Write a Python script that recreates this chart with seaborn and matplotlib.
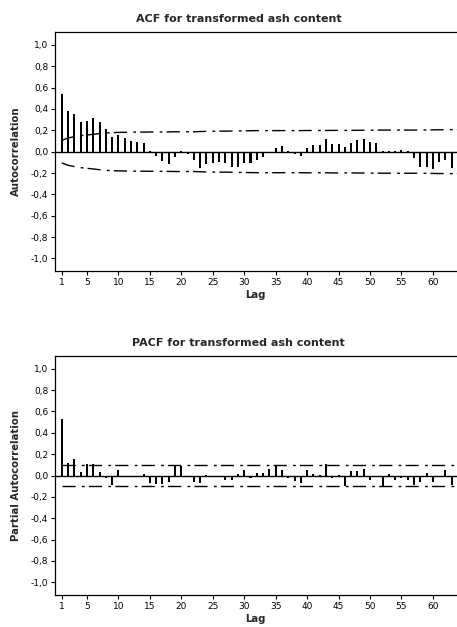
import numpy as np
import pandas as pd
import matplotlib
matplotlib.use("Agg")
import matplotlib.pyplot as plt
import seaborn as sns

# Lags shown on both correlograms
lags = list(range(1, 64))

# Sample autocorrelations, lags 1..63
acf_values = [
    0.54, 0.38, 0.35, 0.275, 0.29, 0.315, 0.275, 0.21, 0.135, 0.155,
    0.125, 0.10, 0.095, 0.085, 0.01, -0.04, -0.085, -0.115, -0.05, 0.01,
    -0.02, -0.08, -0.15, -0.12, -0.11, -0.10, -0.105, -0.14, -0.14, -0.105,
    -0.11, -0.075, -0.05, -0.01, 0.035, 0.055, 0.01, -0.02, -0.045, 0.035,
    0.065, 0.065, 0.115, 0.075, 0.07, 0.045, 0.085, 0.11, 0.115, 0.095,
    0.08, 0.005, 0.005, 0.005, 0.015, 0.01, -0.055, -0.14, -0.14, -0.16,
    -0.10, -0.08, -0.155,
]

# Upper confidence limit of the ACF (lower limit is its mirror)
acf_limit = [
    0.106, 0.128, 0.140, 0.150, 0.156, 0.162, 0.169, 0.175, 0.178, 0.180,
    0.181, 0.182, 0.183, 0.183, 0.184, 0.184, 0.184, 0.185, 0.186, 0.186,
    0.186, 0.186, 0.188, 0.190, 0.191, 0.192, 0.192, 0.193, 0.194, 0.195,
    0.196, 0.197, 0.197, 0.197, 0.197, 0.197, 0.197, 0.197, 0.197, 0.198,
    0.198, 0.198, 0.198, 0.199, 0.199, 0.199, 0.199, 0.200, 0.200, 0.201,
    0.201, 0.202, 0.202, 0.202, 0.202, 0.202, 0.202, 0.202, 0.203, 0.204,
    0.205, 0.205, 0.206,
]

# Sample partial autocorrelations, lags 1..63
pacf_values = [
    0.53, 0.115, 0.15, 0.035, 0.11, 0.11, 0.03, -0.02, -0.085, 0.05,
    -0.012, -0.005, -0.005, 0.015, -0.07, -0.08, -0.08, -0.06, 0.09, 0.09,
    -0.01, -0.06, -0.07, 0.005, 0.0, -0.005, -0.04, -0.04, 0.015, 0.055,
    -0.02, 0.02, 0.02, 0.06, 0.09, 0.055, -0.02, -0.05, -0.07, 0.055,
    0.01, 0.005, 0.11, -0.025, 0.005, -0.10, 0.045, 0.04, 0.065, -0.04,
    0.0, -0.11, 0.015, -0.04, -0.025, -0.04, -0.09, -0.065, 0.025, -0.065,
    0.0, 0.055, -0.09,
]

# Constant confidence limit of the PACF
pacf_limit = 0.102

x_ticks = [1, 5, 10, 15, 20, 25, 30, 35, 40, 45, 50, 55, 60]
y_ticks = [-1.0, -0.8, -0.6, -0.4, -0.2, 0.0, 0.2, 0.4, 0.6, 0.8, 1.0]
y_tick_labels = [f"{v:.1f}".replace(".", ",") for v in y_ticks]

sns.set_theme(style="white")
plt.rcParams["font.family"] = ["DejaVu Sans"]
plt.rcParams["lines.scale_dashes"] = False

XLIM = (-0.17, 63.84)
YLIM = (-1.12, 1.12)
DASHDOT = (0, (9.5, 4.5, 2.0, 3.0))

fig = plt.figure(figsize=(4.57, 6.27), dpi=100)
fig.patch.set_facecolor("white")
ax_acf = fig.add_axes([54.5 / 457, 1 - 271.3 / 627, 1 - 54.5 / 457, 239.3 / 627])
ax_pacf = fig.add_axes([54.5 / 457, 1 - 595.0 / 627, 1 - 54.5 / 457, 239.0 / 627])


def correlogram(ax, values, upper, lower, title, ylabel):
    df = pd.DataFrame({"lag": lags, "value": values})
    sns.barplot(data=df, x="lag", y="value", native_scale=True, width=0.32,
                color="black", linewidth=0, saturation=1, ax=ax)
    ax.set_xlim(*XLIM)
    ax.set_ylim(*YLIM)
    xs = lags + [XLIM[1]]
    up = list(upper) + [upper[-1]]
    lo = list(lower) + [lower[-1]]
    sns.lineplot(x=xs, y=up, color="black", lw=1.0, linestyle=DASHDOT, ax=ax)
    sns.lineplot(x=xs, y=lo, color="black", lw=1.0, linestyle=DASHDOT, ax=ax)
    ax.axhline(0, color="black", lw=1.0, zorder=1)

    ax.set_xticks(x_ticks)
    ax.set_xticklabels([str(t) for t in x_ticks], fontsize=6.5)
    ax.set_yticks(y_ticks)
    ax.set_yticklabels(y_tick_labels, fontsize=6.5)
    ax.tick_params(axis="both", direction="out", length=3, width=0.8,
                   color="black", pad=1.5, labelcolor="black")
    ax.tick_params(axis="x", bottom=True, pad=2)
    ax.tick_params(axis="y", left=True)
    for side in ("left", "top", "bottom"):
        ax.spines[side].set_visible(True)
        ax.spines[side].set_color("black")
        ax.spines[side].set_linewidth(0.9)
    ax.spines["right"].set_visible(False)
    ax.set_title(title, fontsize=8, fontweight="bold", pad=7.5, x=0.458)
    ax.set_xlabel("Lag", fontsize=7.3, fontweight="bold", labelpad=2)
    ax.set_ylabel(ylabel, fontsize=7.3, fontweight="bold", labelpad=7)
    ax.grid(False)


correlogram(ax_acf, acf_values, acf_limit, [-v for v in acf_limit],
            "ACF for transformed ash content", "Autocorrelation")
correlogram(ax_pacf, pacf_values, [pacf_limit] * len(lags),
            [-pacf_limit] * len(lags),
            "PACF for transformed ash content", "Partial Autocorrelation")

fig.savefig("out.png", dpi=100, facecolor="white")
